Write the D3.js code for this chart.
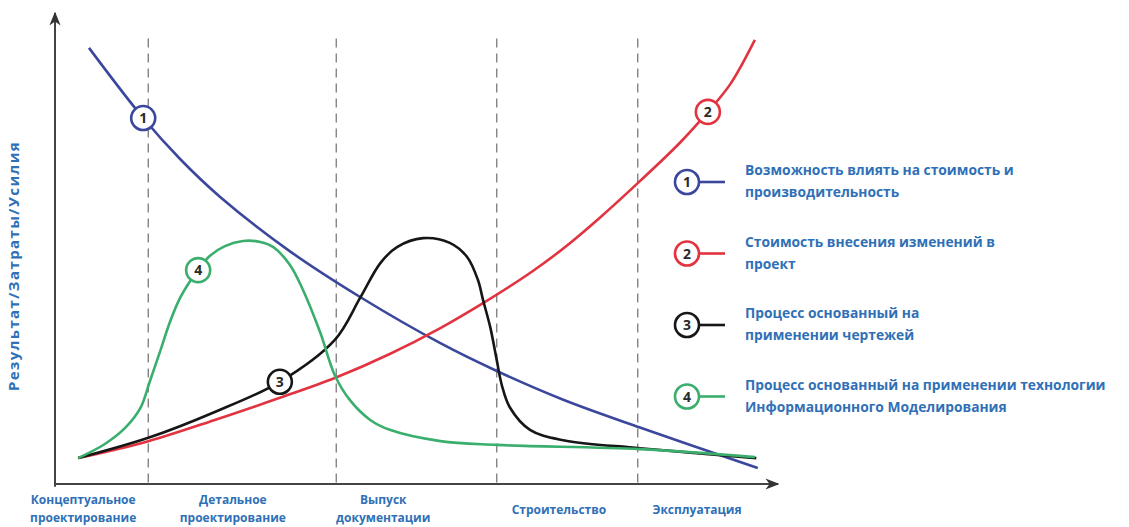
<!DOCTYPE html>
<html>
<head>
<meta charset="utf-8">
<script src="https://cdn.jsdelivr.net/npm/d3@7"></script>
<style>
  body { margin: 0; background: #fff; }
  text { font-family: "Open Sans", sans-serif; font-weight: 700; }
</style>
</head>
<body>
<svg id="chart" width="1129" height="527"></svg>
<script>
// phases along the x axis (0..100 units)
const phases = [
  { lines: ['Концептуальное', 'проектирование'], center: 3.9 },
  { lines: ['Детальное', 'проектирование'], center: 24.6 },
  { lines: ['Выпуск', 'документации'], center: 45.4 },
  { lines: ['Строительство'], center: 69.7 },
  { lines: ['Эксплуатация'], center: 88.8 }
];
const phaseBounds = [12.9, 38.9, 61.1, 80.6];

// curve 1: possibility to influence cost
const influence = [[4.7, 92.6], [12.2, 77.7], [17.3, 69.0], [22.8, 61.0], [32.5, 49.4], [42.2, 39.7], [53.3, 29.9], [61.1, 24.0], [70.3, 17.9], [80.9, 12.0], [97.2, 3.4]];
// curve 2: cost of changes
const changeCost = [[3.2, 5.5], [12.9, 9.1], [22.1, 13.6], [31.1, 18.3], [38.7, 22.5], [46.3, 27.6], [53.3, 33.1], [59.2, 38.4], [65.7, 44.8], [70.3, 50.0], [75.4, 56.6], [80.9, 64.3], [86.4, 72.4], [90.3, 79.0], [93.4, 84.9], [96.8, 94.3]];
// curve 3: drawing based process
const drawings = [[3.2, 5.5], [12.9, 9.8], [22.1, 15.3], [31.1, 21.7], [38.7, 30.6], [42.2, 39.5], [45.0, 46.9], [47.3, 50.3], [50.9, 52.2], [54.6, 51.2], [57.0, 48.2], [58.5, 43.3], [59.2, 39.1], [60.2, 33.3], [61.1, 26.3], [61.8, 21.0], [62.9, 16.3], [65.7, 11.5], [70.3, 9.3], [80.9, 7.6], [97.0, 5.5]];
// curve 4: BIM based process
const bim = [[3.2, 5.5], [6.9, 8.5], [9.7, 11.9], [11.8, 16.1], [13.1, 21.7], [14.5, 28.0], [15.9, 34.4], [17.3, 39.5], [18.7, 43.1], [19.8, 45.4], [21.4, 48.4], [23.5, 50.5], [26.0, 51.6], [28.4, 51.4], [30.2, 50.3], [32.5, 46.5], [34.3, 41.2], [36.7, 32.1], [38.7, 23.1], [40.8, 17.8], [43.6, 13.6], [46.3, 11.5], [53.3, 9.1], [61.1, 8.3], [80.9, 7.4], [96.8, 5.7]];

const series = [
  { id: '1', data: influence, color: '#3b479c', marker: [12.2, 77.7],
    label: ['Возможность влиять на стоимость и', 'производительность'] },
  { id: '2', data: changeCost, color: '#e23340', marker: [90.3, 79.0],
    label: ['Стоимость внесения изменений в', 'проект'] },
  { id: '3', data: drawings, color: '#161616', marker: [31.1, 21.7],
    label: ['Процесс основанный на', 'применении чертежей'] },
  { id: '4', data: bim, color: '#3aae6c', marker: [19.8, 45.4],
    label: ['Процесс основанный на применении технологии', 'Информационного Моделирования'] }
];

const svg = d3.select('#chart');
const x = d3.scaleLinear().domain([0, 100]).range([55, 778]);
const y = d3.scaleLinear().domain([0, 100]).range([484, 13]);
const textBlue = '#2f70b6';

// phase separators
svg.selectAll('.sep')
  .data(phaseBounds)
  .enter()
  .append('line')
  .attr('x1', d => x(d)).attr('x2', d => x(d))
  .attr('y1', y(94.6)).attr('y2', y(0))
  .attr('stroke', '#7a7a7a')
  .attr('stroke-width', 1.3)
  .attr('stroke-dasharray', '9,6');

// axes with arrows
svg.append('defs').append('marker')
  .attr('id', 'arrow')
  .attr('viewBox', '0 0 10 10')
  .attr('refX', 9).attr('refY', 5)
  .attr('markerWidth', 7).attr('markerHeight', 7)
  .attr('orient', 'auto')
  .append('path')
  .attr('d', 'M0,1 L10,5 L0,9 L3,5 Z')
  .attr('fill', '#333');

svg.append('line')
  .attr('x1', x(0)).attr('y1', y(-0.6))
  .attr('x2', x(0)).attr('y2', y(100))
  .attr('stroke', '#444').attr('stroke-width', 2)
  .attr('marker-end', 'url(#arrow)');
svg.append('line')
  .attr('x1', x(0) - 1).attr('y1', y(0))
  .attr('x2', x(100)).attr('y2', y(0))
  .attr('stroke', '#444').attr('stroke-width', 2)
  .attr('marker-end', 'url(#arrow)');

// curves
const line = d3.line()
  .x(d => x(d[0]))
  .y(d => y(d[1]))
  .curve(d3.curveCatmullRom.alpha(0.5));

svg.selectAll('.curve')
  .data(series)
  .enter()
  .append('path')
  .attr('class', 'curve')
  .attr('d', d => line(d.data))
  .attr('fill', 'none')
  .attr('stroke', d => d.color)
  .attr('stroke-width', 2.6);

// numbered markers on the curves
const badge = (g, color, id) => {
  g.append('circle')
    .attr('r', 12)
    .attr('fill', '#fff')
    .attr('stroke', color)
    .attr('stroke-width', 2.6);
  g.append('text')
    .attr('text-anchor', 'middle')
    .attr('dy', '0.36em')
    .attr('font-size', 14)
    .attr('fill', '#2a2a2a')
    .text(id);
};

series.forEach(s => {
  const g = svg.append('g').attr('transform', `translate(${x(s.marker[0])},${y(s.marker[1])})`);
  badge(g, s.color, s.id);
});

// legend
const legend = svg.append('g').attr('transform', 'translate(687,0)');
series.forEach((s, i) => {
  const cy = 182 + i * 71.5;
  legend.append('line')
    .attr('x1', 10).attr('x2', 38)
    .attr('y1', cy).attr('y2', cy)
    .attr('stroke', s.color).attr('stroke-width', 2.6);
  const g = legend.append('g').attr('transform', `translate(0,${cy})`);
  badge(g, s.color, s.id);
  s.label.forEach((t, j) => {
    legend.append('text')
      .attr('x', 58)
      .attr('y', cy - 7 + j * 22)
      .attr('font-size', 13.8)
      .attr('fill', textBlue)
      .text(t);
  });
});

// phase labels
phases.forEach(p => {
  const top = p.lines.length === 1 ? 514 : 504;
  p.lines.forEach((t, j) => {
    svg.append('text')
      .attr('x', x(p.center))
      .attr('y', top + j * 18)
      .attr('text-anchor', 'middle')
      .attr('font-size', 12)
      .attr('fill', textBlue)
      .text(t);
  });
});

// y axis title
svg.append('text')
  .attr('transform', `translate(19,${y(46.3)}) rotate(-90)`)
  .attr('text-anchor', 'middle')
  .attr('font-size', 15)
  .attr('letter-spacing', 1.4)
  .attr('fill', textBlue)
  .text('Результат/Затраты/Усилия');
</script>
</body>
</html>
